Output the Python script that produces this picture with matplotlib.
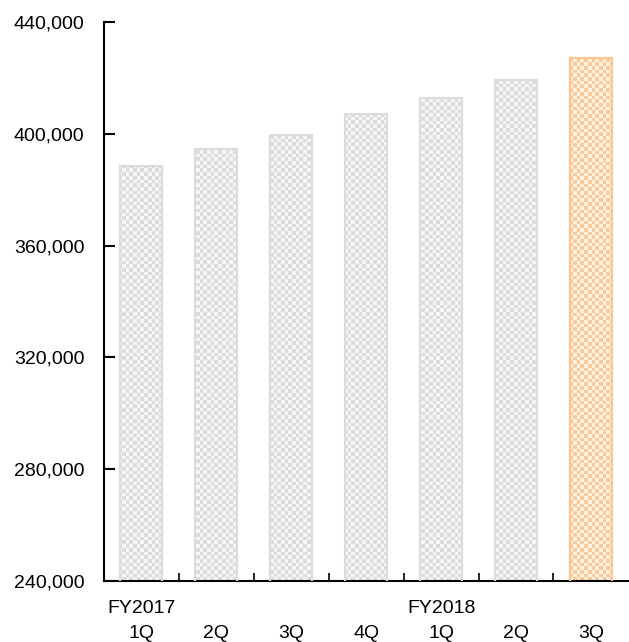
import numpy as np
import matplotlib
matplotlib.use("Agg")
import matplotlib.pyplot as plt
from matplotlib.colors import ListedColormap

categories = ["FY2017\n1Q", "\n2Q", "\n3Q", "\n4Q", "FY2018\n1Q", "\n2Q", "\n3Q"]
values = [388600, 394600, 399600, 407100, 412900, 419300, 427100]
yticks = [240000, 280000, 320000, 360000, 400000, 440000]

plt.rcParams['font.family'] = ['Liberation Sans', 'DejaVu Sans']

fig = plt.figure(figsize=(6.29, 6.42), dpi=100)
ax = fig.add_axes([0.1653, 0.0950, 0.8337, 0.8707])

x = np.arange(len(values))
edge_cols = ['#dcdcdc'] * 6 + ['#ffc690']
dark_cols = ['#dcdcdc'] * 6 + ['#ffc898']
light_cols = ['#f6f6f6'] * 6 + ['#fff3e6']
bars = ax.bar(x, values, width=0.56, facecolor='none', edgecolor=edge_cols, linewidth=1.6, zorder=3)

ax.set_xlim(-0.5, len(values) - 0.5)
ax.set_ylim(240000, 440000)

# checkerboard texture clipped to each bar
nx, ny = 142, 152
ii, jj = np.meshgrid(np.arange(nx), np.arange(ny))
checker = ((ii + jj) % 2).astype(float)
for b, dc, lc in zip(bars, dark_cols, light_cols):
    cmap = ListedColormap([lc, dc])
    im = ax.imshow(checker, cmap=cmap, extent=(-0.5, len(values) - 0.5, 240000, 440000),
                   origin='lower', interpolation='nearest', aspect='auto', zorder=2)
    im.set_clip_path(b)

ax.set_xticks(x)
ax.set_xticklabels(categories, fontsize=14, linespacing=1.55)
ax.set_xticks(np.arange(len(values) - 1) + 0.5, minor=True)
ax.tick_params(axis='x', which='major', length=0, pad=14)
ax.tick_params(axis='x', which='minor', direction='in', length=6, width=1.2)
ax.set_yticks(yticks)
ax.set_yticklabels([f"{v:,}" for v in yticks], fontsize=14)
ax.tick_params(axis='y', direction='in', length=8, width=1.5, pad=14)

for s in ['top', 'right']:
    ax.spines[s].set_visible(False)
for s in ['left', 'bottom']:
    ax.spines[s].set_linewidth(1.5)
    ax.spines[s].set_color('black')

fig.savefig('out.png', dpi=100)
